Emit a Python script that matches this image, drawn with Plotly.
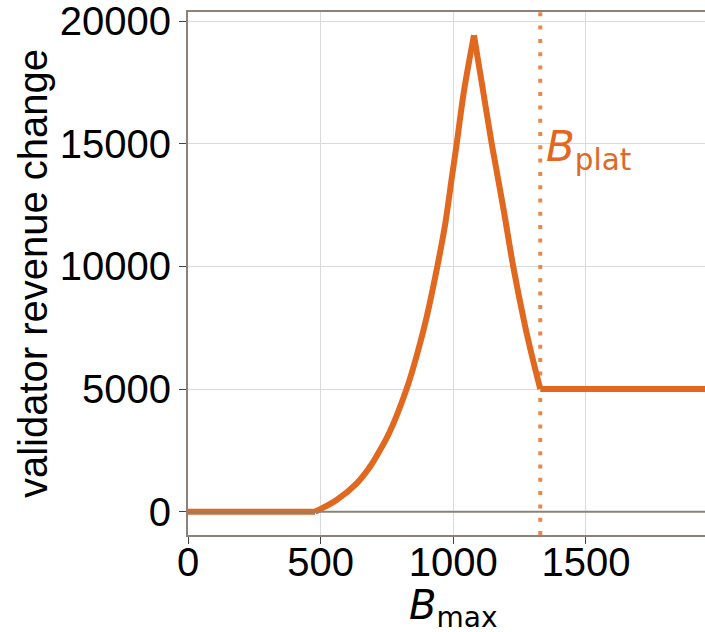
import plotly.graph_objects as go

# ---- data ----
# flat part, rise to the peak, fall to the plateau, plateau
flat_x = [0, 479]
flat_y = [0, 0]
rise_x = [479, 560, 636, 686, 724, 758, 824, 868, 900, 940, 969, 996, 1013, 1040, 1078]
rise_y = [0, 477, 1157, 1834, 2515, 3195, 5000, 6590, 7948, 10000, 11685, 13724, 15000,
          17118, 19420]
fall_x = [1078, 1113, 1145, 1189, 1226, 1270, 1299, 1328]
fall_y = [19420, 17118, 15000, 12366, 10000, 7610, 6252, 5000]
plat_x = [1328, 1950]
plat_y = [5000, 5000]
B_PLAT = 1328
x_ticks = [0, 500, 1000, 1500]
y_ticks = [0, 5000, 10000, 15000, 20000]
X_RANGE = [0, 1949]
Y_RANGE = [-950, 20370]

ORANGE = "#E0681F"
ORANGE_LIGHT = "#E8884C"
SPINE = "#8C8279"
GRID = "#DADADA"

fig = go.Figure()

fig.add_trace(go.Scatter(
    x=[B_PLAT, B_PLAT], y=Y_RANGE, mode="lines",
    line=dict(color=ORANGE_LIGHT, width=4, dash="4px,9.3px"),
    hoverinfo="skip", showlegend=False,
))

for xs, ys, shape in [(flat_x, flat_y, "linear"), (rise_x, rise_y, "spline"),
                      (fall_x, fall_y, "spline"), (plat_x, plat_y, "linear")]:
    fig.add_trace(go.Scatter(
        x=xs, y=ys, mode="lines",
        line=dict(color=ORANGE, width=6, shape=shape, smoothing=1.0),
        showlegend=False,
    ))

# zero line on top of data
fig.add_shape(type="line", xref="paper", x0=0, x1=1, yref="y", y0=0, y1=0,
              line=dict(color=SPINE, width=2), layer="above")

fig.add_annotation(
    x=B_PLAT, y=14750, xref="x", yref="y",
    text="<i>B</i><sub>plat</sub>", showarrow=False,
    xanchor="left", yanchor="middle", xshift=4,
    font=dict(family="DejaVu Sans", size=42, color=ORANGE),
)

fig.add_annotation(
    x=1000, y=0, xref="x", yref="paper",
    text="<i>B</i><sub>max</sub>", showarrow=False,
    xanchor="center", yanchor="top", yshift=-45,
    font=dict(family="DejaVu Sans", size=40, color="black"),
)

fig.update_layout(
    width=705, height=632,
    margin=dict(l=188, r=0, t=12, b=97),
    plot_bgcolor="white", paper_bgcolor="white",
    font=dict(family="Liberation Sans", size=40, color="black"),
)

fig.update_xaxes(
    range=X_RANGE, tickvals=x_ticks, ticktext=[str(v) for v in x_ticks],
    showgrid=True, gridcolor=GRID, gridwidth=1.3,
    zeroline=False, showline=True, linecolor=SPINE, linewidth=1.8, mirror=True,
    ticks="outside", ticklen=7, tickwidth=1.2, tickcolor="#444444",
    ticklabelstandoff=-16, ticklabeloverflow="allow",
    tickfont=dict(family="Liberation Sans", size=40, color="black"),
)

fig.update_yaxes(
    range=Y_RANGE, tickvals=y_ticks, ticktext=[str(v) for v in y_ticks],
    showgrid=True, gridcolor=GRID, gridwidth=1.3,
    zeroline=False, showline=True, linecolor=SPINE, linewidth=1.8, mirror=False,
    ticks="outside", ticklen=7, tickwidth=1.2, tickcolor="#444444",
    ticklabeloverflow="allow",
    tickfont=dict(family="Liberation Sans", size=40, color="black"),
    title=dict(text="validator revenue change", standoff=0,
               font=dict(family="Liberation Sans", size=40, color="black")),
)

fig.write_html("out.html")
